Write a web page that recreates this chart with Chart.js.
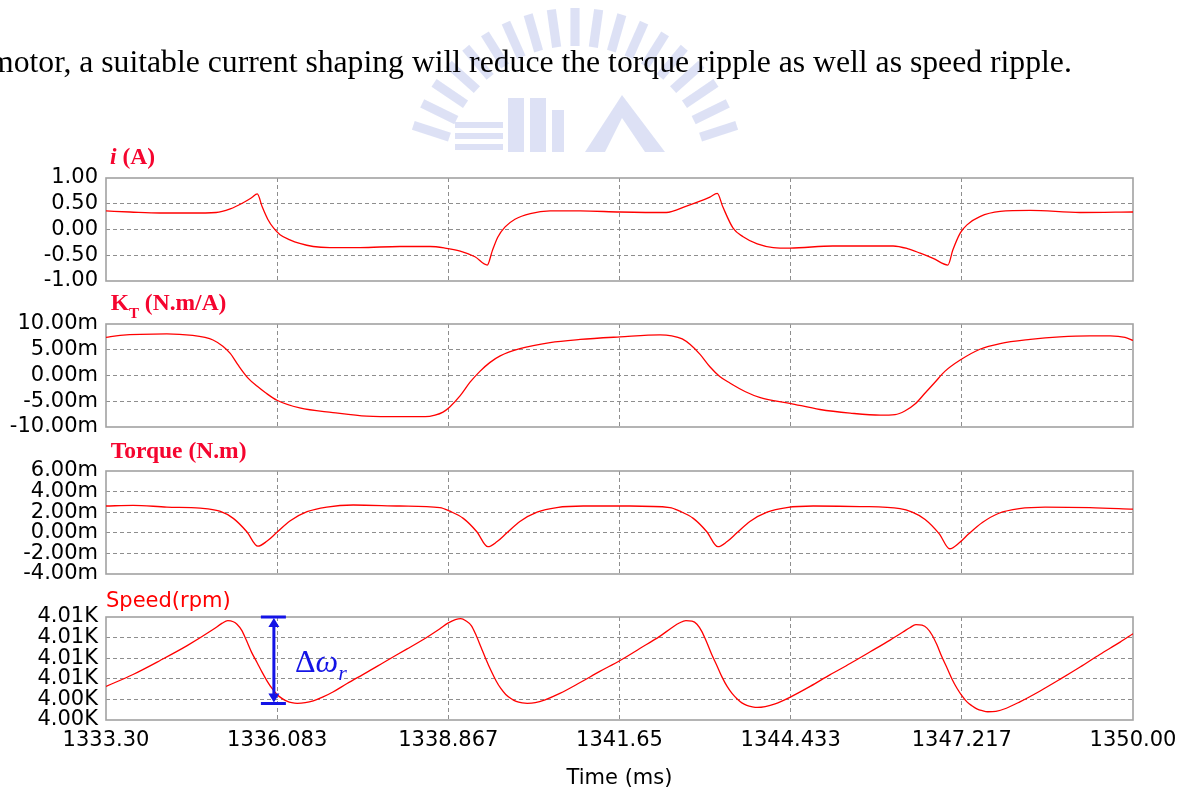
<!DOCTYPE html>
<html>
<head>
<meta charset="utf-8">
<script src="https://cdn.jsdelivr.net/npm/chart.js@4.4.1/dist/chart.umd.min.js"></script>
<style>
  html, body { margin: 0; padding: 0; background: #fff; }
  #page { position: relative; width: 1186px; height: 793px; overflow: hidden; background: #fff; }
  #page canvas { position: absolute; left: 0; }
  #page svg { position: absolute; left: 0; top: 0; }
  #labels { pointer-events: none; }
</style>
</head>
<body>
<div id="page">
  <svg id="crest" width="1186" height="793"></svg>
  <canvas id="cCurrent" width="1186" height="147" style="top:156px"></canvas>
  <canvas id="cKt" width="1186" height="147" style="top:302px"></canvas>
  <canvas id="cTorque" width="1186" height="147" style="top:449px"></canvas>
  <canvas id="cSpeed" width="1186" height="198" style="top:595px"></canvas>
  <svg id="labels" width="1186" height="793">
    <text x="-11" y="72.3" font-family="'Liberation Serif', 'Times New Roman', serif" font-size="31.7" fill="#000">motor, a suitable current shaping will reduce the torque ripple as well as speed ripple.</text>
    <g font-family="'Liberation Serif', 'Times New Roman', serif" font-weight="bold" font-size="23.5" fill="#f5052f">
      <text x="110" y="164.3"><tspan font-style="italic">i</tspan> (A)</text>
      <text x="110.7" y="310">K<tspan font-size="15" dy="8">T</tspan><tspan dy="-8"> (N.m/A)</tspan></text>
      <text x="110.7" y="457.7">Torque (N.m)</text>
    </g>
    <text x="106" y="606.7" font-family="'DejaVu Sans', sans-serif" font-size="21" fill="#ff0000">Speed(rpm)</text>
    <text x="295" y="672" font-family="'Liberation Serif', 'Times New Roman', serif" font-size="32" fill="#1414e6">Δ<tspan font-style="italic">ω</tspan><tspan font-style="italic" font-size="22" dy="8">r</tspan></text>
  </svg>
</div>
<script>
// ---- time axis (ms) ----
const timeTicks = [1333.3, 1336.0833, 1338.8667, 1341.65, 1344.4333, 1347.2167, 1350.0];
const timeTickLabels = ['1333.30', '1336.083', '1338.867', '1341.65', '1344.433', '1347.217', '1350.00'];

// ---- phase current i (A) ----
const currentTime = [1333.30,1333.69,1334.18,1334.67,1335.09,1335.32,1335.53,1335.67,1335.76,1335.84,
  1335.93,1336.03,1336.13,1336.29,1336.45,1336.67,1336.94,1337.43,1338.08,1338.57,
  1338.81,1339.06,1339.30,1339.50,1339.58,1339.67,1339.79,1339.95,1340.20,1340.52,
  1341.01,1341.66,1342.41,1342.75,1342.96,1343.12,1343.24,1343.33,1343.50,1343.66,
  1343.89,1344.15,1344.42,1345.12,1346.10,1346.33,1346.54,1346.75,1346.99,1347.07,
  1347.19,1347.30,1347.51,1347.84,1348.33,1349.14,1350.00];
const currentAmp = [0.36,0.34,0.32,0.32,0.33,0.40,0.52,0.62,0.69,0.44,
  0.20,0.02,-0.10,-0.20,-0.27,-0.33,-0.35,-0.35,-0.33,-0.33,
  -0.36,-0.42,-0.53,-0.69,-0.42,-0.15,0.05,0.20,0.31,0.36,
  0.36,0.34,0.33,0.46,0.55,0.63,0.70,0.44,0.02,-0.14,
  -0.28,-0.35,-0.36,-0.32,-0.32,-0.37,-0.46,-0.56,-0.69,-0.40,
  -0.07,0.09,0.25,0.35,0.37,0.33,0.34];
const currentTicks = [-1, -0.5, 0, 0.5, 1];
const currentTickLabels = ['-1.00', '-0.50', '0.00', '0.50', '1.00'];

// ---- torque constant K_T (mN.m/A) ----
const ktTime = [1333.30,1333.53,1334.29,1334.71,1334.91,1335.04,1335.20,1335.32,1335.45,1335.61,
  1335.76,1335.90,1336.08,1336.45,1336.99,1337.54,1338.08,1338.49,1338.65,1338.78,
  1338.89,1339.06,1339.22,1339.38,1339.54,1339.71,1340.03,1340.52,1341.01,1341.66,
  1342.31,1342.50,1342.67,1342.80,1342.96,1343.12,1343.28,1343.45,1343.69,1343.94,
  1344.42,1344.91,1345.40,1345.89,1346.13,1346.29,1346.46,1346.62,1346.78,1346.94,
  1347.19,1347.51,1347.84,1348.33,1348.81,1349.30,1349.63,1349.87,1350.00];
const ktMilli = [7.4,7.8,8.1,7.8,7.4,6.9,5.7,4.3,2.0,-0.5,
  -2.1,-3.4,-4.8,-6.3,-7.2,-7.9,-8.0,-8.0,-7.7,-7.1,
  -6.1,-3.9,-1.3,0.8,2.5,3.8,5.2,6.4,7.0,7.5,
  7.9,7.7,7.1,6.0,4.1,1.7,-0.2,-1.5,-3.1,-4.3,
  -5.4,-6.6,-7.3,-7.7,-7.6,-6.9,-5.5,-3.4,-1.3,0.8,
  3.0,5.1,6.2,7.0,7.5,7.7,7.7,7.4,6.8];
const ktTicks = [-10, -5, 0, 5, 10];
const ktTickLabels = ['-10.00m', '-5.00m', '0.00m', '5.00m', '10.00m'];

// ---- torque (mN.m) ----
const torqueTime = [1333.30,1333.74,1334.29,1334.83,1335.15,1335.37,1335.59,1335.77,1335.92,1336.08,
  1336.29,1336.57,1336.89,1337.32,1338.08,1338.73,1338.89,1339.11,1339.33,1339.51,
  1339.66,1339.82,1340.03,1340.31,1340.63,1341.06,1341.82,1342.47,1342.63,1342.85,
  1343.07,1343.25,1343.40,1343.56,1343.77,1344.05,1344.37,1344.80,1345.56,1346.21,
  1346.41,1346.62,1346.85,1347.02,1347.17,1347.33,1347.55,1347.82,1348.15,1348.57,
  1349.30,1350.00];
const torqueMilli = [2.6,2.67,2.5,2.4,2.1,1.4,0.1,-1.3,-0.8,0.05,
  1.15,2.05,2.5,2.7,2.6,2.45,2.1,1.4,0.1,-1.35,
  -0.85,0.0,1.1,2.0,2.45,2.6,2.6,2.45,2.1,1.4,
  0.1,-1.35,-0.85,0.0,1.1,2.0,2.45,2.6,2.55,2.35,
  2.0,1.3,-0.1,-1.55,-1.0,-0.1,1.0,1.9,2.35,2.5,
  2.45,2.3];
const torqueTicks = [-4, -2, 0, 2, 4, 6];
const torqueTickLabels = ['-4.00m', '-2.00m', '0.00m', '2.00m', '4.00m', '6.00m'];

// ---- rotor speed (rpm) ----
const speedTime = [1333.30,1333.74,1334.18,1334.62,1335.04,1335.19,1335.28,1335.37,1335.43,1335.51,
  1335.59,1335.67,1335.76,1335.84,1335.92,1336.00,1336.08,1336.16,1336.24,1336.32,
  1336.41,1336.54,1336.67,1336.83,1336.99,1337.22,1337.54,1337.87,1338.19,1338.52,
  1338.73,1338.86,1338.98,1339.07,1339.15,1339.24,1339.32,1339.40,1339.48,1339.56,
  1339.64,1339.72,1339.80,1339.89,1339.97,1340.07,1340.15,1340.28,1340.44,1340.68,
  1341.01,1341.33,1341.66,1341.98,1342.31,1342.50,1342.63,1342.73,1342.83,1342.91,
  1342.99,1343.07,1343.15,1343.24,1343.32,1343.40,1343.48,1343.56,1343.64,1343.72,
  1343.81,1343.89,1344.02,1344.18,1344.42,1344.75,1345.07,1345.40,1345.72,1346.05,
  1346.26,1346.37,1346.47,1346.57,1346.65,1346.73,1346.81,1346.89,1346.98,1347.06,
  1347.14,1347.22,1347.30,1347.38,1347.46,1347.55,1347.64,1347.77,1347.94,1348.16,
  1348.49,1348.81,1349.14,1349.46,1349.79,1350.00];
const speedRpm = [4005.63,4006.21,4006.89,4007.61,4008.39,4008.70,4008.82,4008.77,4008.65,4008.34,
  4007.82,4007.27,4006.77,4006.31,4005.89,4005.53,4005.24,4005.05,4004.92,4004.84,
  4004.81,4004.84,4004.93,4005.12,4005.36,4005.77,4006.31,4006.89,4007.44,4008.02,
  4008.43,4008.70,4008.87,4008.92,4008.82,4008.58,4008.10,4007.52,4006.94,4006.40,
  4005.92,4005.53,4005.24,4005.03,4004.90,4004.83,4004.81,4004.84,4004.98,4005.29,
  4005.82,4006.36,4006.89,4007.47,4008.07,4008.48,4008.72,4008.82,4008.80,4008.65,
  4008.29,4007.76,4007.18,4006.60,4006.07,4005.63,4005.29,4005.03,4004.83,4004.71,
  4004.64,4004.61,4004.65,4004.78,4005.10,4005.63,4006.19,4006.74,4007.30,4007.88,
  4008.27,4008.48,4008.63,4008.60,4008.46,4008.14,4007.66,4007.08,4006.50,4005.97,
  4005.53,4005.17,4004.88,4004.69,4004.54,4004.45,4004.40,4004.42,4004.57,4004.88,
  4005.41,4005.97,4006.57,4007.18,4007.78,4008.19];
const speedTicks = [4004, 4005, 4006, 4007, 4008, 4009];
const speedTickLabels = ['4.00K', '4.00K', '4.01K', '4.01K', '4.01K', '4.01K'];

// speed ripple marker: time position and [low, high] speed it spans
const deltaOmegaTime = 1336.03;
const deltaOmegaSpan = [4004.8, 4009];

Chart.defaults.font.family = "'DejaVu Sans', 'Liberation Sans', sans-serif";
Chart.defaults.color = '#000';

const GRID = '#8e8e8e';
const hideEdges = (count) => (c) => (c.index === 0 || c.index === count - 1) ? 'rgba(0,0,0,0)' : GRID;

// full rectangle around the plotting area
const framePlugin = {
  id: 'frame',
  beforeDatasetsDraw(chart) {
    const { ctx, chartArea: a } = chart;
    ctx.save();
    ctx.strokeStyle = '#a2a2a2';
    ctx.lineWidth = 1.6;
    ctx.strokeRect(a.left, a.top, a.right - a.left, a.bottom - a.top);
    ctx.restore();
  }
};

// blue double arrow showing the speed ripple
const deltaOmegaPlugin = {
  id: 'deltaOmega',
  afterDatasetsDraw(chart) {
    const { ctx, scales: { x, y } } = chart;
    const px = x.getPixelForValue(deltaOmegaTime);
    const yTop = y.getPixelForValue(deltaOmegaSpan[1]);
    const yBot = y.getPixelForValue(deltaOmegaSpan[0]);
    ctx.save();
    ctx.strokeStyle = '#1414e6';
    ctx.fillStyle = '#1414e6';
    ctx.lineWidth = 3;
    ctx.beginPath();
    ctx.moveTo(px - 13, yTop); ctx.lineTo(px + 12, yTop);
    ctx.moveTo(px - 13, yBot); ctx.lineTo(px + 12, yBot);
    ctx.moveTo(px, yTop + 6); ctx.lineTo(px, yBot - 6);
    ctx.stroke();
    ctx.beginPath();
    ctx.moveTo(px, yTop + 1); ctx.lineTo(px - 5.5, yTop + 10); ctx.lineTo(px + 5.5, yTop + 10); ctx.closePath();
    ctx.moveTo(px, yBot - 1); ctx.lineTo(px - 5.5, yBot - 10); ctx.lineTo(px + 5.5, yBot - 10); ctx.closePath();
    ctx.fill();
    ctx.restore();
  }
};

function xScale(showLabels) {
  return {
    type: 'linear',
    min: timeTicks[0],
    max: timeTicks[timeTicks.length - 1],
    afterBuildTicks: (s) => { s.ticks = timeTicks.map((v) => ({ value: v })); },
    afterFit: (s) => { s.height = showLabels ? 73 : 0; },
    ticks: {
      display: showLabels,
      autoSkip: false,
      maxRotation: 0,
      padding: 8,
      font: { size: 21 },
      callback: (v, i) => timeTickLabels[i]
    },
    grid: { drawTicks: false, lineWidth: 1, color: hideEdges(timeTicks.length) },
    border: { display: false, dash: [4, 3] },
    title: {
      display: showLabels,
      text: 'Time (ms)',
      font: { size: 21 },
      padding: { top: 12, bottom: 2 }
    }
  };
}

function yScale(values, labels) {
  return {
    type: 'linear',
    min: values[0],
    max: values[values.length - 1],
    afterBuildTicks: (s) => { s.ticks = values.map((v) => ({ value: v })); },
    afterFit: (s) => { s.width = 106; },
    ticks: {
      autoSkip: false,
      padding: 8,
      font: { size: 21 },
      callback: (v, i) => labels[i]
    },
    grid: { drawTicks: false, lineWidth: 1, color: hideEdges(values.length) },
    border: { display: false, dash: [4, 3] }
  };
}

function panel(canvasId, times, values, yValues, yLabels, showTime, extra) {
  return new Chart(document.getElementById(canvasId), {
    type: 'line',
    data: {
      datasets: [{
        data: times.map((t, i) => ({ x: t, y: values[i] })),
        borderColor: '#ff0000',
        borderWidth: 1.3,
        pointRadius: 0,
        fill: false,
        cubicInterpolationMode: 'monotone'
      }]
    },
    options: {
      responsive: false,
      animation: false,
      devicePixelRatio: 1,
      events: [],
      layout: { padding: { left: 0, right: 53, top: 22, bottom: showTime ? 0 : 22 } },
      plugins: { legend: { display: false }, tooltip: { enabled: false } },
      scales: { x: xScale(showTime), y: yScale(yValues, yLabels) }
    },
    plugins: [framePlugin].concat(extra || [])
  });
}

panel('cCurrent', currentTime, currentAmp, currentTicks, currentTickLabels, false);
panel('cKt', ktTime, ktMilli, ktTicks, ktTickLabels, false);
panel('cTorque', torqueTime, torqueMilli, torqueTicks, torqueTickLabels, false);
panel('cSpeed', speedTime, speedRpm, speedTicks, speedTickLabels, true, [deltaOmegaPlugin]);

// faint university crest behind the heading text
(function drawCrest() {
  const ns = 'http://www.w3.org/2000/svg';
  const svg = document.getElementById('crest');
  const g = document.createElementNS(ns, 'g');
  g.setAttribute('fill', '#bcc5ec');
  g.setAttribute('opacity', '0.5');
  svg.appendChild(g);
  const cx = 575, cy = 178, r1 = 132, r2 = 170, half = 4.6;
  for (let a = 198; a <= 342; a += 8) {
    const rad = a * Math.PI / 180;
    const ux = Math.cos(rad), uy = Math.sin(rad);
    const nx = -uy, ny = ux;
    const pts = [
      [cx + ux * r1 + nx * half, cy + uy * r1 + ny * half],
      [cx + ux * r2 + nx * half, cy + uy * r2 + ny * half],
      [cx + ux * r2 - nx * half, cy + uy * r2 - ny * half],
      [cx + ux * r1 - nx * half, cy + uy * r1 - ny * half]
    ];
    const p = document.createElementNS(ns, 'polygon');
    p.setAttribute('points', pts.map((q) => q[0].toFixed(1) + ',' + q[1].toFixed(1)).join(' '));
    g.appendChild(p);
  }
  const shapes = [
    ['rect', { x: 455, y: 122, width: 48, height: 6 }],
    ['rect', { x: 455, y: 133, width: 48, height: 6 }],
    ['rect', { x: 455, y: 144, width: 48, height: 6 }],
    ['rect', { x: 508, y: 98, width: 16, height: 54 }],
    ['rect', { x: 530, y: 98, width: 16, height: 54 }],
    ['rect', { x: 552, y: 110, width: 12, height: 42 }],
    ['polygon', { points: '585,152 622,95 665,152 645,152 622,118 605,152' }]
  ];
  shapes.forEach(([tag, attrs]) => {
    const el = document.createElementNS(ns, tag);
    Object.keys(attrs).forEach((k) => el.setAttribute(k, attrs[k]));
    g.appendChild(el);
  });
})();
</script>
</body>
</html>
